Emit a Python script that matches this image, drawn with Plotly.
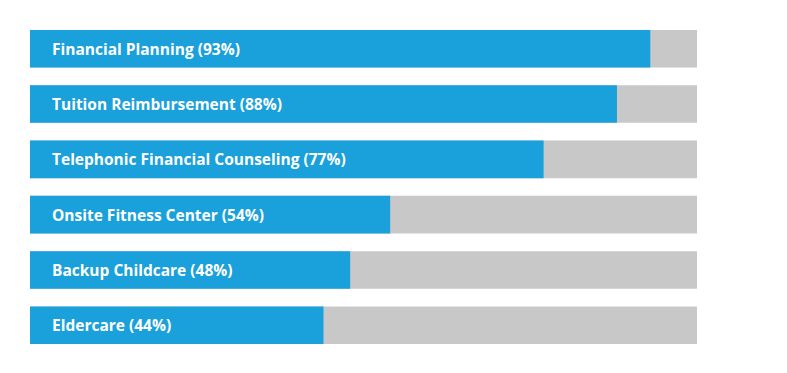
import plotly.graph_objects as go

categories = ["Financial Planning", "Tuition Reimbursement", "Telephonic Financial Counseling",
              "Onsite Fitness Center", "Backup Childcare", "Eldercare"]
values = [93, 88, 77, 54, 48, 44]
full = [100] * len(values)

pos = list(range(len(categories)))
BLUE = "#1AA0DA"
GRAY = "#C8C8C8"

fig = go.Figure()
fig.add_trace(go.Bar(x=full, y=pos, orientation="h", marker=dict(color=GRAY, line=dict(width=0)),
                     width=0.68, hoverinfo="skip", showlegend=False))
fig.add_trace(go.Bar(x=values, y=pos, orientation="h", marker=dict(color=BLUE, line=dict(width=0)),
                     width=0.68, showlegend=False))

for p, c, v in zip(pos, categories, values):
    fig.add_annotation(x=0, y=p, xref="x", yref="y", text=f"<b>{c} ({v}%)</b>", showarrow=False,
                       xanchor="left", yanchor="middle", xshift=20,
                       font=dict(family="Open Sans", size=15.5, color="white"))

# page body has an 8px default margin; compensate so the plot lands where the reference has it
fig.update_layout(
    width=771, height=357,
    margin=dict(l=22, r=82, t=22, b=21),
    paper_bgcolor="white", plot_bgcolor="white",
    barmode="overlay",
    xaxis=dict(range=[0, 100], visible=False, fixedrange=True),
    yaxis=dict(range=[5.34, -0.34], visible=False, fixedrange=True),
)
fig.write_html("out.html")
